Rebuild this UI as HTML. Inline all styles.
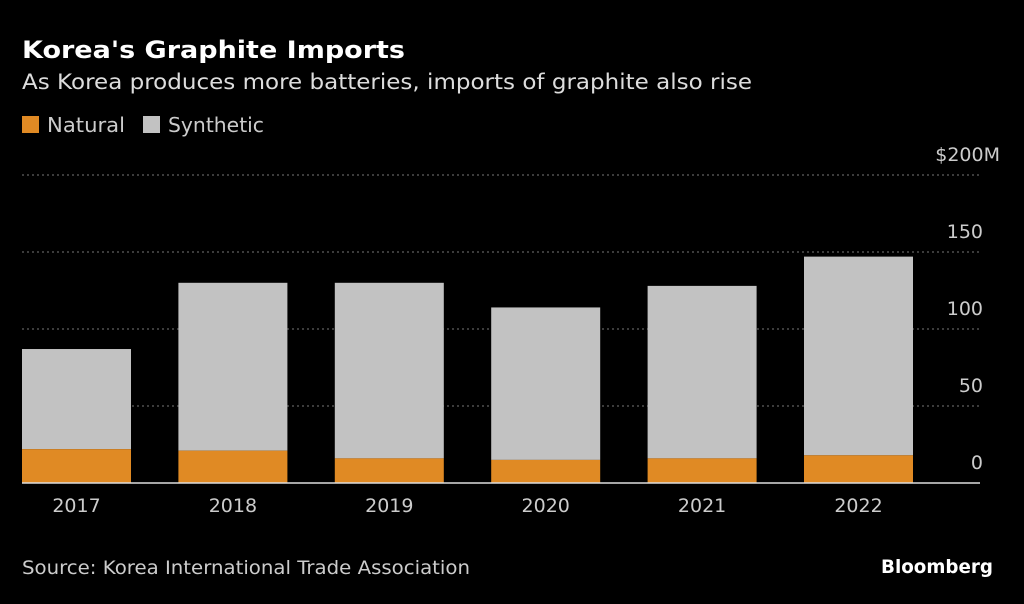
<!DOCTYPE html>
<html><head><meta charset="utf-8"><style>
body{margin:0;background:#000;width:1024px;height:600px;overflow:hidden;font-family:"DejaVu Sans","Liberation Sans",sans-serif;color:#fff}
svg text{font-family:"DejaVu Sans","Liberation Sans",sans-serif}
</style></head><body>
<svg width="1024" height="600">
<text x="22" y="58" font-size="24" font-weight="bold" fill="#fff" textLength="383" lengthAdjust="spacingAndGlyphs">Korea's Graphite Imports</text>
<text x="22" y="89" font-size="21" fill="#ddd" textLength="730" lengthAdjust="spacingAndGlyphs">As Korea produces more batteries, imports of graphite also rise</text>
<rect x="22" y="116" width="17" height="17" fill="#e08a24"/>
<text x="47" y="132" font-size="20" fill="#ccc" textLength="78" lengthAdjust="spacingAndGlyphs">Natural</text>
<rect x="143" y="116" width="17" height="17" fill="#c2c2c2"/>
<text x="168" y="132" font-size="20" fill="#ccc" textLength="96" lengthAdjust="spacingAndGlyphs">Synthetic</text>
<g id="grid"></g><g id="bars"></g><g id="labels"></g>
<line x1="22" x2="980" y1="483" y2="483" stroke="#ddd" stroke-width="1.5"/>
<text x="22" y="574" font-size="19" fill="#ccc" textLength="448" lengthAdjust="spacingAndGlyphs">Source: Korea International Trade Association</text>
<text x="881" y="573" font-size="19" font-weight="bold" fill="#fff" textLength="112" lengthAdjust="spacingAndGlyphs">Bloomberg</text>
</svg>
<script>
const categories=["2017","2018","2019","2020","2021","2022"];
const natural=[22,21,16,15,16,18];
const synthetic=[65,109,114,99,112,129];
const ticks=[0,50,100,150,200];
const tickLabels=["0","50","100","150","$200M"];
const NS="http://www.w3.org/2000/svg";
const y=v=>483-v*1.54;
const xc=i=>76.5+i*156.4;
const bw=109;
function mk(t,a,p){const e=document.createElementNS(NS,t);for(const k in a)e.setAttribute(k,a[k]);p.appendChild(e);return e;}
const g=document.getElementById('grid'),b=document.getElementById('bars'),l=document.getElementById('labels');
ticks.forEach((t,i)=>{
 if(t>0){const ln=mk('line',{x1:22,x2:980,y1:y(t),y2:y(t),stroke:'#777','stroke-dasharray':'2,3'},g);
 
 }
 const tx=mk('text',{x:983,y:y(t)-14,'font-size':19,fill:'#ccc','text-anchor':'end'},l);
 if(t===200){tx.setAttribute('x',1000);}
 tx.textContent=tickLabels[i];
 
 
});
categories.forEach((c,i)=>{
 const s=mk('rect',{x:xc(i)-bw/2,y:y(natural[i]+synthetic[i]),width:bw,height:synthetic[i]*1.54,fill:'#c2c2c2'},b);
 
 
 const n=mk('rect',{x:xc(i)-bw/2,y:y(natural[i]),width:bw,height:natural[i]*1.54,fill:'#e08a24'},b);
 
 
 const t=mk('text',{x:xc(i),y:512,'font-size':19,fill:'#ccc','text-anchor':'middle'},l);
 t.textContent=c;
 
 
});
</script>
</body></html>
